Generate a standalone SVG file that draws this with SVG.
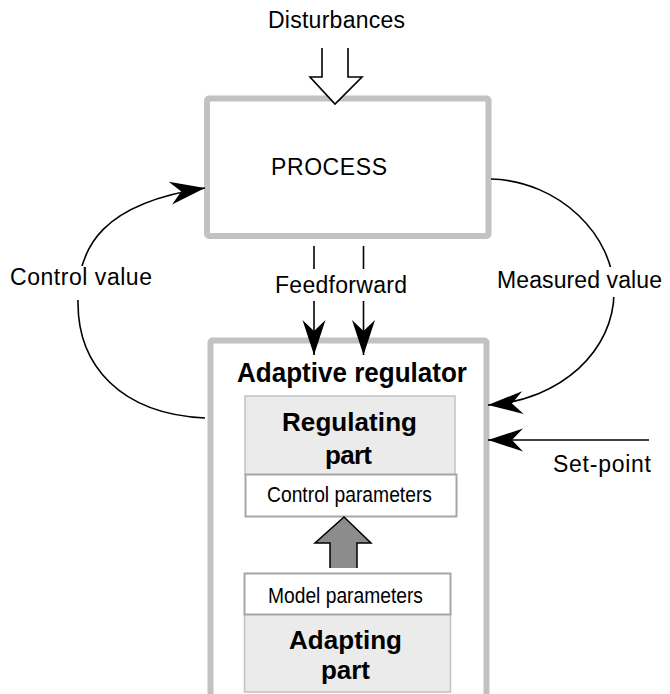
<svg xmlns="http://www.w3.org/2000/svg" width="670" height="694" viewBox="0 0 670 694">
  <style>
    text { font-family: "Liberation Sans", Arial, Helvetica, sans-serif; fill: #000; }
    .lbl { font-size: 23px; }
    .b { font-weight: bold; font-size: 26px; }
    .small { font-size: 22px; }
    .frame { fill: #fff; stroke: #c2c2c2; stroke-width: 6; }
    .part { fill: #ebebeb; stroke: #c2c2c2; stroke-width: 1.5; }
    .param { fill: #fff; stroke: #a6a6a6; stroke-width: 2; }
    .wire { fill: none; stroke: #000; stroke-width: 1.6; }
    .bg { fill: #fff; stroke: none; }
  </style>
  <defs>
    <marker id="head" markerUnits="userSpaceOnUse" viewBox="-37 -13 38 26" markerWidth="38" markerHeight="26" refX="0" refY="0" orient="auto">
      <path d="M0,0 L-35,-11.5 L-24,0 L-35,11.5 Z" fill="#000"/>
    </marker>
  </defs>

  <rect width="670" height="694" fill="#fff"/>

  <!-- Process block -->
  <g id="process">
    <rect class="frame" x="207" y="98.5" width="281.5" height="137.5" rx="2"/>
    <text class="lbl" x="271" y="175" textLength="116">PROCESS</text>
  </g>

  <!-- Adaptive regulator with its two parts -->
  <g id="adaptive-regulator">
    <rect class="frame" x="210.5" y="340.5" width="276" height="390" rx="2"/>
    <text class="b" x="237" y="381.5" style="font-size:27px" textLength="230" lengthAdjust="spacingAndGlyphs">Adaptive regulator</text>
  </g>

  <g id="regulating-part">
    <rect class="part" x="245" y="396" width="210" height="79"/>
    <text class="b" x="282" y="431" textLength="135">Regulating</text>
    <text class="b" x="325" y="463.5" textLength="47">part</text>
  </g>

  <g id="control-parameters">
    <rect class="param" x="245.5" y="474.5" width="211" height="42"/>
    <text class="small" x="267" y="501.5" textLength="165" lengthAdjust="spacingAndGlyphs">Control parameters</text>
  </g>

  <g id="adapting-part">
    <rect class="part" x="244.5" y="614" width="206" height="78"/>
    <text class="b" x="289" y="648.5" textLength="113">Adapting</text>
    <text class="b" x="321" y="678.5" textLength="49">part</text>
  </g>

  <g id="model-parameters">
    <rect class="param" x="244.5" y="573.5" width="206" height="41"/>
    <text class="small" x="268" y="602.5" textLength="155" lengthAdjust="spacingAndGlyphs">Model parameters</text>
  </g>

  <!-- Connectors -->
  <g id="connectors">
    <!-- disturbances: hollow block arrow into the process -->
    <path d="M322,48 V77 H310 L335,104 L362,77 H348 V48" fill="#fff" stroke="#000" stroke-width="1.6" stroke-linejoin="miter"/>

    <!-- model parameters feed the control parameters -->
    <path d="M330,568 V543 H315 L344,517 L371,543 H357 V568" fill="#8c8c8c" stroke="#000" stroke-width="1.5"/>

    <!-- control value loop: regulator back to process -->
    <path class="wire" d="M205,418 C120,414 78,365 78,303 C76,245 105,203 205,188" marker-end="url(#head)"/>

    <!-- measured value loop: process to regulator -->
    <path class="wire" d="M491,179 C560,181 614,236 614,292 C614,350 562,400 488,405" marker-end="url(#head)"/>

    <!-- feedforward pair -->
    <line class="wire" x1="314" y1="246" x2="314" y2="355" marker-end="url(#head)"/>
    <line class="wire" x1="363.5" y1="246" x2="363.5" y2="355" marker-end="url(#head)"/>

    <!-- set-point input -->
    <line class="wire" x1="649" y1="440" x2="488" y2="440" marker-end="url(#head)"/>
  </g>

  <!-- Connector labels -->
  <g id="labels">
    <rect class="bg" x="60" y="266" width="50" height="34"/>
    <text class="lbl" x="10" y="285" textLength="142">Control value</text>

    <rect class="bg" x="590" y="267" width="45" height="30"/>
    <text class="lbl" x="497" y="288" textLength="165">Measured value</text>

    <rect class="bg" x="300" y="269" width="80" height="32"/>
    <text class="lbl" x="275" y="293" textLength="132">Feedforward</text>

    <text class="lbl" x="553" y="472" textLength="98">Set-point</text>

    <text class="lbl" x="268" y="28" textLength="137">Disturbances</text>
  </g>
</svg>
